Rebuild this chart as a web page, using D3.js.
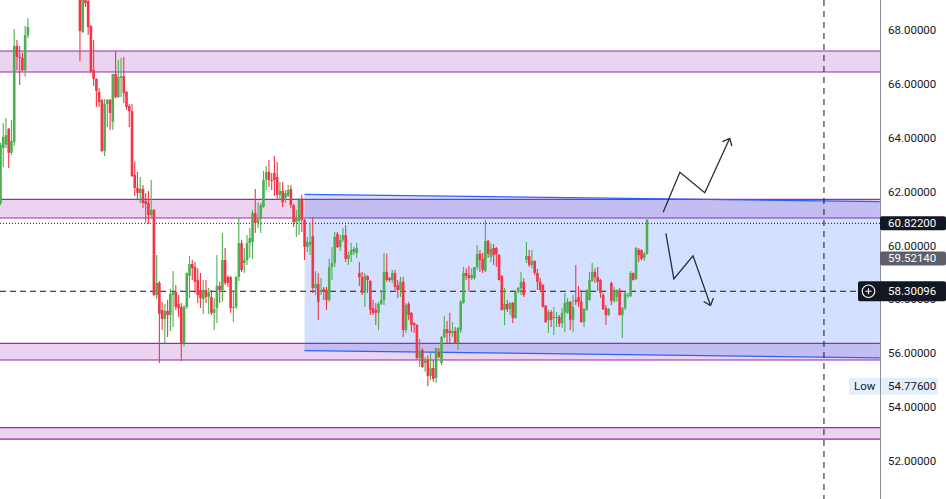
<!doctype html>
<html lang="en">
<head>
<meta charset="UTF-8">
<script src="https://d3js.org/d3.v7.min.js"></script>
<title>Candles</title>
<style>
  body { margin: 0; background: #fff; }
  svg { display: block; font-family: Roboto, "Liberation Sans", sans-serif; }
</style>
</head>
<body>
<div class="container"></div>
<script>
    // candles, each row is [open, high, low, close]
    const bars = [
        [61.58,63.81,61.50,63.73],[63.62,64.55,62.91,64.03],[63.75,64.73,63.62,64.10],[64.33,64.36,62.88,63.44],
        [63.44,64.66,63.36,63.88],[63.85,68.04,63.70,67.41],[67.41,67.63,66.51,67.00],[67.00,67.41,65.96,66.96],
        [66.96,67.15,66.48,66.51],[66.51,68.15,66.26,67.81],[67.81,68.44,67.70,68.11],
        // above the visible range
        [69.5,70.1,69.3,69.9],[69.9,70.6,69.7,70.4],[70.4,70.9,70.0,70.2],[70.2,70.8,69.9,70.6],
        [70.6,71.3,70.4,71.1],[71.1,71.5,70.6,70.8],[70.8,71.0,70.1,70.3],[70.3,70.9,70.0,70.7],
        [70.7,71.2,70.4,70.5],[70.5,70.7,69.8,70.0],[70.0,70.6,69.7,70.4],[70.4,70.8,70.1,70.2],
        [70.2,70.4,69.6,69.8],[69.8,70.3,69.5,70.1],[70.1,70.5,69.7,69.9],[69.9,70.2,69.4,69.6],
        [69.6,70.0,69.3,69.8],[69.8,70.2,69.5,69.7],
        [69.40,69.70,66.85,67.96],[67.92,69.50,67.90,69.30],[69.11,69.25,68.85,69.00],[69.07,69.15,67.81,68.11],
        [68.15,68.18,66.40,66.44],[66.51,67.63,65.92,66.18],[66.18,66.22,65.14,65.74],[65.70,65.85,65.14,65.33],
        [65.40,65.44,63.47,63.51],[63.51,65.44,63.32,65.25],[65.25,65.44,64.40,65.40],[65.40,65.44,64.29,64.92],
        [64.59,66.37,64.29,66.37],[66.37,67.22,65.47,65.51],[65.51,66.89,65.48,66.26],[66.22,66.96,65.51,66.29],
        [66.29,67.00,65.29,65.66],[65.70,65.74,65.03,65.14],[65.18,65.25,64.40,64.99],[64.99,65.25,62.54,62.58],
        [62.62,63.10,61.84,62.14],[62.14,62.73,61.73,61.95],[61.95,62.54,61.58,62.10],[62.10,62.25,61.39,61.58],
        [61.65,61.95,60.84,61.54],[61.58,62.02,60.80,61.13],[61.13,62.43,61.02,61.32],[61.32,61.35,58.12,58.16],
        [58.16,59.65,58.01,58.61],[58.61,58.68,55.64,57.46],[57.61,57.91,56.86,57.27],[57.27,57.83,56.38,57.57],
        [57.57,57.98,56.60,57.42],[57.42,58.39,56.83,58.20],[58.16,59.05,56.97,58.27],[58.27,58.53,57.61,57.72],
        [57.83,58.16,57.35,57.68],[57.72,57.87,55.71,56.38],[56.38,57.79,56.27,57.72],[57.72,59.00,57.64,58.98],
        [58.87,59.61,58.05,59.31],[59.31,59.46,58.72,59.16],[59.20,59.39,58.24,58.65],[58.72,59.16,57.87,58.16],
        [58.35,58.98,57.68,58.05],[58.01,58.72,57.46,58.35],[58.35,58.72,57.87,58.09],[58.09,58.42,57.46,58.27],
        [58.09,58.35,57.42,57.50],[57.50,58.05,56.86,57.64],[57.68,59.65,57.12,58.50],[58.50,58.65,57.87,58.35],
        [58.35,60.46,57.91,59.46],[59.46,59.91,58.53,58.61],[58.83,58.90,58.46,58.61],[58.83,58.86,57.50,57.68],
        [57.68,58.35,57.16,57.72],[57.72,58.86,57.64,58.83],[58.83,61.02,58.68,60.09],[60.09,60.21,59.02,59.09],
        [59.35,59.91,58.98,59.46],[59.46,60.39,59.28,60.09],[60.09,60.65,59.54,60.28],[60.13,61.32,59.50,61.21],
        [61.21,62.10,60.46,60.84],[60.84,61.61,60.65,60.98],[60.98,61.58,60.46,61.50],[61.43,62.77,61.40,62.43],
        [62.43,62.95,62.06,62.73],[62.73,63.17,62.17,62.43],[62.43,62.69,62.06,62.40],[62.69,63.32,61.84,62.43],
        [62.54,63.10,61.69,61.88],[61.88,62.36,61.69,62.02],[62.02,62.36,61.43,61.61],[61.76,62.06,61.58,61.95],
        [61.84,62.25,61.80,62.06],[62.10,62.25,61.39,61.50],[61.50,61.54,60.69,60.87],[60.87,61.32,60.32,61.02],
        [60.91,61.76,60.39,61.69],[61.69,61.88,60.50,60.95],[60.95,60.98,59.46,59.95],[59.95,60.32,59.76,60.13],
        [60.02,60.84,59.65,60.13],[60.35,61.06,58.24,58.42],[58.42,59.05,58.16,58.57],[58.57,58.98,57.24,57.91],
        [58.27,58.79,58.16,58.35],[58.39,58.46,57.98,58.27],[58.35,58.46,57.61,57.98],[57.98,59.50,57.91,59.20],
        [59.20,59.94,58.72,59.35],[59.35,60.50,59.20,60.32],[60.43,60.50,59.91,59.94],[59.94,60.39,59.80,60.21],
        [60.21,60.65,60.13,60.39],[60.39,60.76,59.39,59.50],[59.50,59.76,59.28,59.65],[59.65,60.09,59.39,59.83],
        [59.76,59.94,59.65,59.87],[59.72,60.09,59.54,59.91],[58.98,59.39,58.50,58.83],[58.83,59.02,58.16,58.24],
        [58.24,58.98,57.72,58.87],[58.87,58.90,58.24,58.72],[58.68,58.72,57.42,57.61],[57.68,57.98,57.42,57.50],
        [57.61,57.87,57.05,57.50],[57.50,57.91,56.86,57.83],[57.83,58.35,57.79,57.98],[57.98,59.72,57.79,59.02],
        [59.02,59.69,58.65,58.72],[58.79,58.83,58.65,58.72],[58.72,59.09,58.61,58.98],[58.98,59.09,58.35,58.46],
        [58.53,58.72,58.05,58.35],[58.35,58.83,58.09,58.65],[58.65,58.83,56.60,56.86],[56.86,57.87,56.75,57.79],
        [57.83,57.91,57.24,57.42],[57.50,57.53,56.79,57.05],[57.12,57.16,56.75,57.05],[57.05,57.08,55.75,55.82],
        [55.82,56.53,55.49,56.05],[56.12,56.19,55.45,55.49],[55.64,55.86,55.31,55.75],[55.75,55.93,54.776,55.16],
        [55.16,56.01,55.01,55.45],[55.45,55.75,54.94,55.05],[55.08,56.19,54.90,56.19],[56.01,56.19,55.82,55.86],
        [55.64,56.64,55.56,56.60],[56.60,57.38,56.57,56.90],[56.90,57.20,56.38,56.75],[56.83,57.50,56.38,56.75],
        [56.75,57.16,56.60,56.83],[56.83,56.97,56.36,56.38],[56.38,56.97,56.12,56.94],[56.86,57.98,56.75,57.91],
        [57.87,59.20,57.84,58.98],[58.98,59.16,58.72,58.87],[58.90,59.24,58.27,58.79],[58.79,59.16,58.72,58.90],
        [58.79,59.20,58.72,59.20],[59.20,60.02,59.09,59.69],[59.69,59.83,59.02,59.46],[59.50,59.72,58.98,59.09],
        [59.05,60.95,59.02,60.17],[60.17,60.21,59.54,59.69],[59.57,60.09,59.39,59.87],[59.91,60.06,59.28,59.65],
        [59.91,59.94,59.20,59.69],[59.65,59.68,58.70,58.72],[58.87,58.90,57.58,57.61],[57.61,58.42,57.05,57.83],
        [57.83,57.98,57.53,57.64],[57.64,57.89,57.42,57.87],[57.87,57.90,57.12,57.31],[57.31,58.29,57.28,58.27],
        [58.27,58.46,58.24,58.42],[58.42,59.02,58.16,58.65],[58.65,58.79,58.09,58.16],[59.46,60.13,59.35,59.61],
        [59.61,59.83,59.20,59.28],[59.28,59.83,59.16,59.42],[59.42,59.45,58.90,58.98],[58.98,59.13,58.35,58.65],
        [58.65,58.79,58.32,58.35],[58.53,58.57,57.70,57.72],[57.76,57.79,57.12,57.16],[57.24,57.61,56.75,57.53],
        [57.53,57.61,56.97,57.24],[57.31,57.72,56.68,57.35],[57.31,57.53,56.97,57.35],[57.35,57.42,56.97,57.09],
        [57.12,57.68,56.94,57.50],[57.50,58.24,56.79,57.87],[57.50,58.05,57.47,57.91],[57.91,57.94,56.86,57.24],
        [57.24,58.16,56.79,57.72],[57.98,59.28,57.79,57.91],[58.09,58.50,57.72,57.91],[57.91,58.35,57.12,57.16],
        [57.16,57.68,56.97,57.64],[57.61,58.38,57.58,58.35],[57.98,59.02,57.95,58.72],[58.68,59.35,58.65,59.02],
        [59.02,59.16,58.61,58.83],[58.83,59.20,58.31,58.65],[58.72,58.76,58.05,58.24],[58.16,58.24,57.61,57.64],
        [57.68,57.79,57.05,57.42],[57.42,57.68,57.38,57.64],[58.61,58.65,57.79,57.94],[57.94,58.46,57.87,58.35],
        [58.09,58.37,57.91,58.35],[58.35,58.42,57.40,57.42],[57.42,57.72,56.57,57.68],[57.68,58.27,57.61,58.24],
        [58.12,58.24,58.05,58.16],[58.12,59.05,58.09,58.98],[58.98,59.00,58.70,58.72],[58.76,59.94,58.72,59.91],
        [59.83,59.91,59.39,59.65],[59.83,59.86,59.46,59.50],[59.54,59.76,59.42,59.69],[59.69,60.98,59.66,60.95]
    ];

    const tickValues = [68, 66, 64, 62, 60, 58, 56, 54, 52];
    // horizontal zones [top, bottom]
    const zones = [[67.22, 66.44], [61.71, 61.02], [56.37, 55.75], [53.24, 52.81]];
    // channel: bar index at left and right, top and bottom price at each end
    const channelIdx = [111, 321];
    const channelTop = [61.90, 61.63];
    const channelBottom = [56.10, 55.83];
    const lastPrice = 60.822;
    const prevPrice = 59.5214;
    const crossPrice = 58.30096;
    const lowPrice = 54.776;
    const vLineIdx = 300.6;
    // drawn arrows [bar index, price]
    const upArrow = [[241.9, 61.23], [248.0, 62.72], [257.1, 61.96], [266.2, 63.98]];
    const downArrow = [[242.9, 60.45], [245.8, 58.76], [252.8, 59.62], [259.2, 57.77]];

    const W = 946, H = 499, plotW = 880;
    const green = '#4caf50', red = '#f23645';

    let svg = d3.select('.container').append('svg')
        .attr('width', W).attr('height', H);

    let x = d3.scaleLinear().domain([0, bars.length - 1]).range([0.5, 647]);
    let y = d3.scaleLinear().domain([52, 68]).range([461, 30]);

    svg.append('clipPath').attr('id', 'plot')
        .append('rect').attr('x', 0).attr('y', 0).attr('width', plotW).attr('height', H);
    let plot = svg.append('g').attr('clip-path', 'url(#plot)');

    // zones
    zones.forEach(function (z) {
        plot.append('rect')
            .attr('x', 0).attr('width', plotW)
            .attr('y', y(z[0])).attr('height', y(z[1]) - y(z[0]))
            .attr('fill', 'rgba(156,39,176,0.2)');
        z.forEach(function (p) {
            plot.append('line')
                .attr('x1', 0).attr('x2', plotW)
                .attr('y1', y(p)).attr('y2', y(p))
                .attr('stroke', '#9c27b0').attr('stroke-width', 1.2);
        });
    });

    // parallel channel
    let chPts = [
        [x(channelIdx[0]), y(channelTop[0])], [x(channelIdx[1]), y(channelTop[1])],
        [x(channelIdx[1]), y(channelBottom[1])], [x(channelIdx[0]), y(channelBottom[0])]
    ];
    plot.append('polygon')
        .attr('points', chPts.map(p => p.join(',')).join(' '))
        .attr('fill', 'rgba(41,98,255,0.2)');
    [[chPts[0], chPts[1]], [chPts[3], chPts[2]]].forEach(function (seg) {
        plot.append('line')
            .attr('x1', seg[0][0]).attr('y1', seg[0][1])
            .attr('x2', seg[1][0]).attr('y2', seg[1][1])
            .attr('stroke', '#2962ff').attr('stroke-width', 1.3);
    });

    // price lines
    plot.append('line')
        .attr('x1', 0).attr('x2', plotW)
        .attr('y1', y(lastPrice)).attr('y2', y(lastPrice))
        .attr('stroke', '#131722').attr('stroke-width', 1)
        .attr('stroke-dasharray', '1,2');
    plot.append('line')
        .attr('x1', 0).attr('x2', plotW)
        .attr('y1', y(crossPrice)).attr('y2', y(crossPrice))
        .attr('stroke', '#131722').attr('stroke-width', 1)
        .attr('stroke-dasharray', '6,4');
    plot.append('line')
        .attr('x1', x(vLineIdx)).attr('x2', x(vLineIdx))
        .attr('y1', 0).attr('y2', H)
        .attr('stroke', '#131722').attr('stroke-width', 1)
        .attr('stroke-dasharray', '6,5');

    // candles
    let bw = 2.6;
    let candle = plot.selectAll('g.candle').data(bars).enter()
        .append('g').attr('class', 'candle');
    candle.append('line')
        .attr('x1', (d, i) => x(i)).attr('x2', (d, i) => x(i))
        .attr('y1', d => y(d[1])).attr('y2', d => y(d[2]))
        .attr('stroke', d => d[3] >= d[0] ? green : red)
        .attr('stroke-width', 1.1);
    candle.append('rect')
        .attr('x', (d, i) => x(i) - bw / 2)
        .attr('width', bw)
        .attr('y', d => y(Math.max(d[0], d[3])))
        .attr('height', d => Math.max(1, Math.abs(y(d[0]) - y(d[3]))))
        .attr('fill', d => d[3] >= d[0] ? green : red);

    // arrows
    function drawArrow(pts) {
        let px = pts.map(p => [x(p[0]), y(p[1])]);
        plot.append('path')
            .attr('d', d3.line()(px))
            .attr('fill', 'none')
            .attr('stroke', '#2a2e39').attr('stroke-width', 1.3);
        let a = px[px.length - 2], b = px[px.length - 1];
        let ang = Math.atan2(a[1] - b[1], a[0] - b[0]);
        [-0.7, 0.7].forEach(function (da) {
            plot.append('line')
                .attr('x1', b[0]).attr('y1', b[1])
                .attr('x2', b[0] + 8 * Math.cos(ang + da))
                .attr('y2', b[1] + 8 * Math.sin(ang + da))
                .attr('stroke', '#2a2e39').attr('stroke-width', 1.3);
        });
    }
    drawArrow(upArrow);
    drawArrow(downArrow);

    // price axis
    svg.append('line')
        .attr('x1', plotW + 0.5).attr('x2', plotW + 0.5)
        .attr('y1', 0).attr('y2', H)
        .attr('stroke', '#8a8d96').attr('stroke-width', 1);
    svg.selectAll('text.tick').data(tickValues).enter()
        .append('text').attr('class', 'tick')
        .attr('x', 888).attr('y', d => y(d))
        .attr('dominant-baseline', 'central')
        .attr('font-size', '11.5px').attr('fill', '#131722')
        .text(d => d.toFixed(5));

    function priceLabel(price, bg, fg, x0, hgt) {
        let g = svg.append('g');
        g.append('rect')
            .attr('x', x0).attr('width', W - x0)
            .attr('y', y(price) - hgt / 2).attr('height', hgt)
            .attr('rx', 2)
            .attr('fill', bg);
        g.append('text')
            .attr('x', 888).attr('y', y(price))
            .attr('dominant-baseline', 'central')
            .attr('font-size', '11.5px').attr('fill', fg)
            .text(price.toFixed(5));
        return g;
    }
    priceLabel(lastPrice, '#131722', '#fff', plotW, 14);
    priceLabel(prevPrice, '#5d606b', '#fff', plotW, 14);
    priceLabel(crossPrice, '#131722', '#fff', 858, 20);
    let cy = y(crossPrice);
    svg.append('circle').attr('cx', 868.5).attr('cy', cy).attr('r', 6.3)
        .attr('fill', 'none').attr('stroke', '#fff').attr('stroke-width', 1.1);
    svg.append('path')
        .attr('d', 'M865.5,' + cy + 'H871.5M868.5,' + (cy - 3) + 'V' + (cy + 3))
        .attr('stroke', '#fff').attr('stroke-width', 1.1);

    // low marker
    svg.append('rect')
        .attr('x', 849).attr('width', 89)
        .attr('y', y(lowPrice) - 8.5).attr('height', 17)
        .attr('rx', 2)
        .attr('fill', '#e3effd');
    svg.append('line')
        .attr('x1', plotW + 0.5).attr('x2', plotW + 0.5)
        .attr('y1', y(lowPrice) - 8.5).attr('y2', y(lowPrice) + 8.5)
        .attr('stroke', '#8a8d96');
    svg.append('text')
        .attr('x', 854).attr('y', y(lowPrice))
        .attr('dominant-baseline', 'central')
        .attr('font-size', '11.5px').attr('fill', '#131722')
        .text('Low');
    svg.append('text')
        .attr('x', 888).attr('y', y(lowPrice))
        .attr('dominant-baseline', 'central')
        .attr('font-size', '11.5px').attr('fill', '#131722')
        .text(lowPrice.toFixed(5));
</script>
</body>
</html>
